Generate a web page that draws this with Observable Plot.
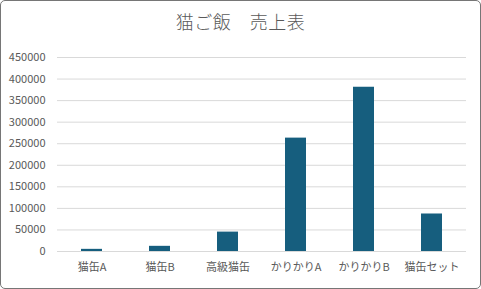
<!DOCTYPE html>
<html>
<head>
<meta charset="utf-8">
<script src="https://cdn.jsdelivr.net/npm/d3@7"></script>
<script src="https://cdn.jsdelivr.net/npm/@observablehq/plot@0.6"></script>
<style>
  html, body { margin: 0; padding: 0; background: #fff; }
  #frame {
    position: relative; width: 481px; height: 289px; box-sizing: border-box;
    border: 1px solid #767676; border-radius: 5px; background: #fff; overflow: hidden;
    font-family: "Noto Sans CJK JP", "Noto Sans", sans-serif;
  }
  #title {
    position: absolute; left: 0; right: 0; top: 7px; text-align: center;
    font-size: 18px; color: #595959; font-weight: 300; letter-spacing: 0.5px;
  }
  #chart { position: absolute; left: 0; top: 0; }
</style>
</head>
<body>
<div id="frame">
  <div id="title">猫ご飯　売上表</div>
  <div id="chart"></div>
</div>
<script>
const categories = ["猫缶A", "猫缶B", "高級猫缶", "かりかりA", "かりかりB", "猫缶セット"];
const sales = [5000, 12000, 45000, 263000, 381000, 87000];
const yTicks = [0, 50000, 100000, 150000, 200000, 250000, 300000, 350000, 400000, 450000];

const data = categories.map((c, i) => ({category: c, value: sales[i]}));

const chart = Plot.plot({
  width: 479,
  height: 287,
  marginTop: 56,
  marginBottom: 37,
  marginLeft: 56,
  marginRight: 14,
  style: {fontFamily: '"Noto Sans CJK JP", "Noto Sans", sans-serif', fontSize: "11px", color: "#595959", background: "transparent"},
  x: {domain: categories, paddingInner: 0.69, paddingOuter: 0.345, label: null, tickSize: 0, tickPadding: 12},
  y: {domain: [0, 450000], ticks: yTicks, label: null, tickSize: 0, tickPadding: 12, tickFormat: d => String(d)},
  marks: [
    Plot.gridY(yTicks, {stroke: "#d9d9d9", strokeOpacity: 1, strokeWidth: 1}),
    Plot.barY(data, {x: "category", y: "value", fill: "#165e7e"}),
    Plot.axisX({tickSize: 0, tickPadding: 12, fill: "#595959"}),
    Plot.axisY({ticks: yTicks, tickSize: 0, tickPadding: 12, tickFormat: d => String(d), fill: "#595959"})
  ]
});
document.getElementById("chart").appendChild(chart);
</script>
</body>
</html>
